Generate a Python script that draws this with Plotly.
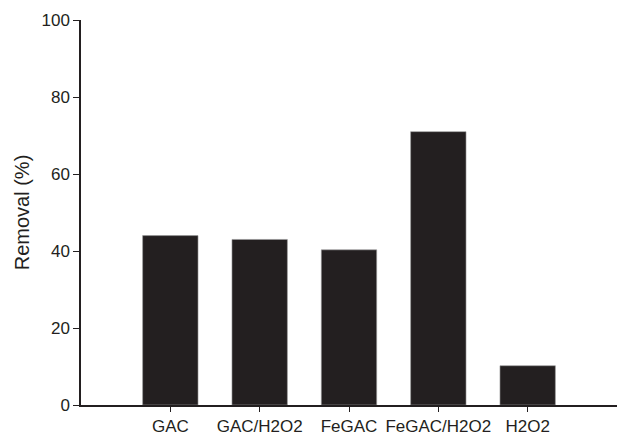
import plotly.graph_objects as go

categories = ["GAC", "GAC/H2O2", "FeGAC", "FeGAC/H2O2", "H2O2"]
removal = [44.0, 43.0, 40.3, 71.0, 10.2]
y_ticks = [0, 20, 40, 60, 80, 100]

ink = "#231f20"

fig = go.Figure(
    go.Bar(
        x=list(range(len(categories))),
        y=removal,
        width=0.62,
        marker=dict(color=ink, line=dict(color="#9a9a9a", width=0.6)),
    )
)

fig.update_layout(
    width=617,
    height=435,
    margin=dict(l=81, r=0, t=20, b=30),
    paper_bgcolor="white",
    plot_bgcolor="white",
    showlegend=False,
    font=dict(family="Liberation Sans, Arial, sans-serif", size=17, color=ink),
    xaxis=dict(
        range=[-1.0, 5.0],
        tickmode="array",
        tickvals=list(range(len(categories))),
        ticktext=categories,
        ticks="outside",
        ticklen=5,
        tickcolor=ink,
        tickwidth=1,
        showline=True,
        linecolor=ink,
        linewidth=1.5,
        showgrid=False,
        zeroline=False,
    ),
    yaxis=dict(
        range=[0, 100],
        tickmode="array",
        tickvals=y_ticks,
        ticks="outside",
        ticklen=6,
        tickcolor=ink,
        tickwidth=1,
        showline=True,
        linecolor=ink,
        linewidth=1.5,
        showgrid=False,
        zeroline=False,
        title=dict(text="Removal (%)", standoff=6),
    ),
)

fig.write_html(
    "out.html",
    config={"displayModeBar": False},
    post_script="document.body.style.margin='0';document.body.style.overflow='hidden';",
)
